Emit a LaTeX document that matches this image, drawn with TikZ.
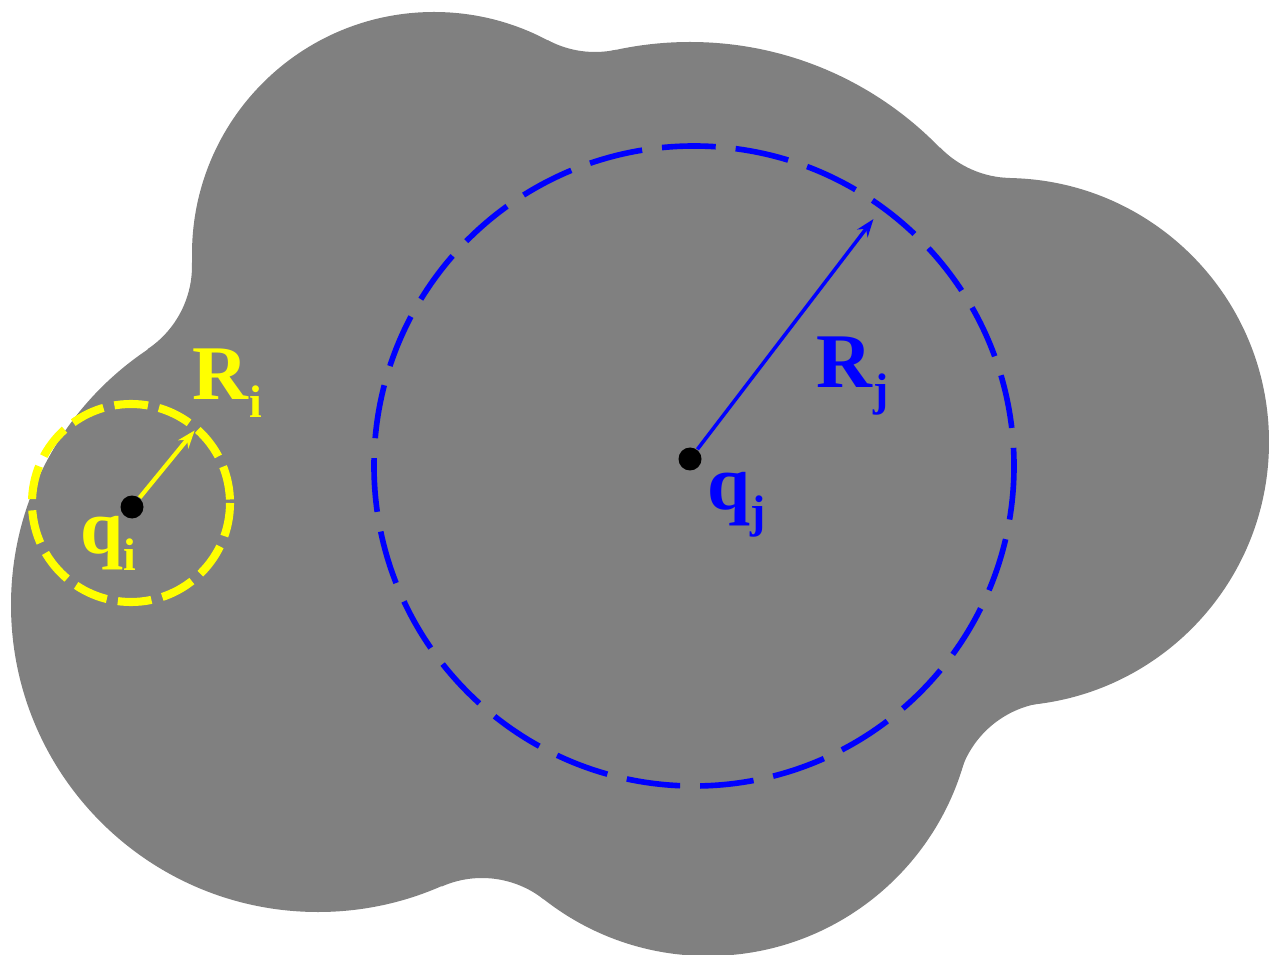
\documentclass[tikz,border=0pt]{standalone}
\usepackage{fontspec}
\setmainfont{Liberation Serif}
\usetikzlibrary{calc,arrows.meta}
\definecolor{blobgray}{RGB}{128,128,128}
\definecolor{qyellow}{RGB}{255,255,0}
\definecolor{qblue}{RGB}{0,0,255}
\newcommand{\sublab}[2]{\textbf{#1}\raisebox{-5pt}{\fontsize{13}{15}\selectfont\textbf{#2}}}

\begin{document}
\begin{tikzpicture}[x=0.1mm,y=-0.1mm,>={Stealth[length=1.8mm,width=1.3mm]},
  vert/.style={circle,fill=black,inner sep=0pt,minimum size=2.3mm},
  lab/.style={anchor=base west,inner sep=0pt,font=\fontsize{22}{26}\selectfont}]
  \fill[white] (0,0) rectangle (1269,955);
  \useasboundingbox (0,0) rectangle (1269,955);
  % sphere centres and probe centres of the gray surface
  \coordinate (cA) at (434,254);
  \coordinate (cB) at (690,390);
  \coordinate (cC) at (1005,442);
  \coordinate (cD) at (708,690);
  \coordinate (cE) at (318,605);
  \coordinate (pAB) at (595,-48);
  \coordinate (pBC) at (1012,78);
  \coordinate (pCD) at (1056,802);
  \coordinate (pDE) at (482,978);
  \coordinate (pEA) at (92,266);
  \foreach \c/\r in {cA/242,cB/348,cC/264,cD/266,cE/307}
    \fill[blobgray] (\c) circle (\r);
  % concave patches (probe radius 100)
  \foreach \f/\s/\e/\p/\q in {pAB/118.1/77.8/cA/cB,pBC/135.9/91.1/cB/cC,
      pCD/261.9/197.8/cC/cD,pDE/308.1/246.3/cD/cE,pEA/56.3/-2.0/cE/cA}
    \fill[blobgray] ($(\f)+(\s:100)$) arc[start angle=\s,end angle=\e,radius=100]
      -- (\q) -- (\p) -- cycle;
  \node[vert] (qi) at (132,507) {};
  \node[vert] (qj) at (690,459) {};
  \coordinate (ringi) at (131,503);
  \coordinate (ringj) at (694,466);
  \coordinate (ri) at ($(qi)+(-50.7:99)$);
  \coordinate (rj) at ($(qj)+(-52.6:302)$);
  \draw[qyellow,line width=2.3pt,dash pattern=on 9.6pt off 3.2pt] (ringi) circle (99);
  \draw[qblue,line width=1.6pt,dash pattern=on 15.3pt off 5.7pt] (ringj) circle (320);
  \draw[->,qyellow,line width=1.2pt] (qi) -- (ri);
  \draw[->,qblue,line width=1pt] (qj) -- (rj);
  \node[lab,text=qyellow] (Ri) at (192,400) {\sublab{R}{i}};
  \node[lab,text=qyellow] (qilab) at (80,553) {\sublab{q}{i}};
  \node[lab,text=qblue] (Rj) at (816,388) {\sublab{R}{j}};
  \node[lab,text=qblue] (qjlab) at (707,510) {\sublab{q}{j}};
\end{tikzpicture}
\end{document}
